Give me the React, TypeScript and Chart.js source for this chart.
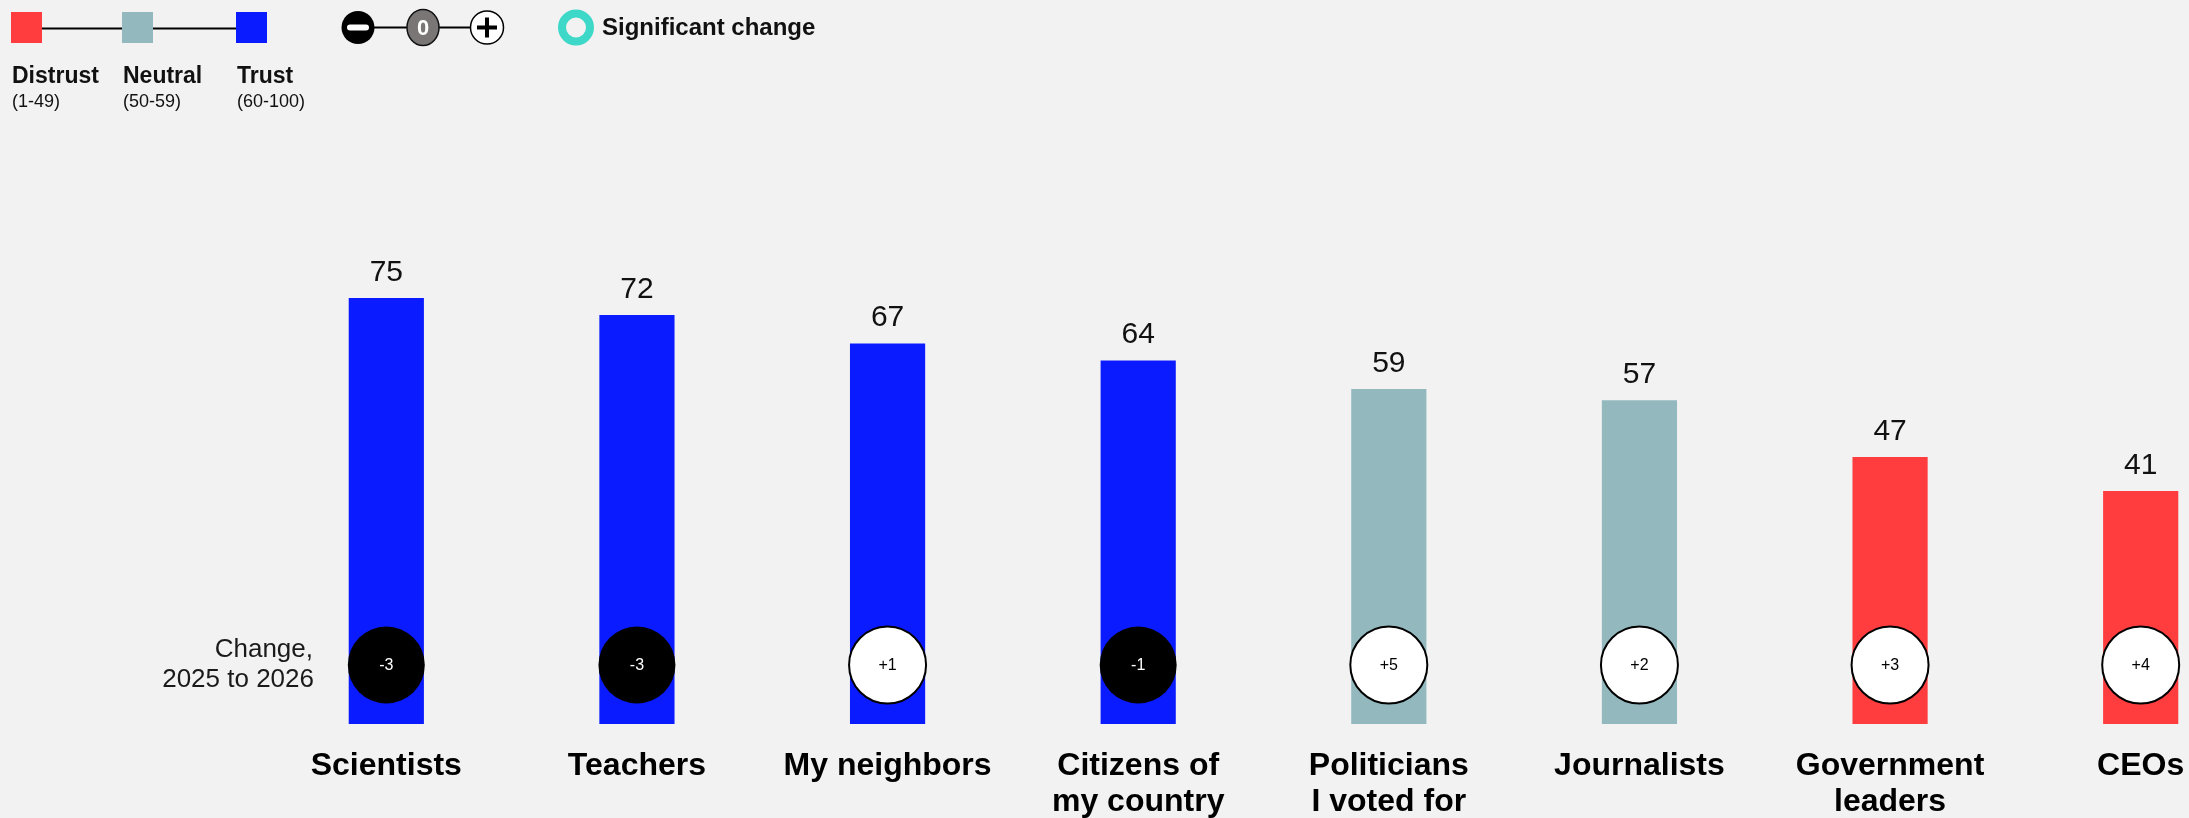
import React, { useEffect, useRef } from 'react';
import { Chart, registerables } from 'chart.js';

Chart.register(...registerables);

// ---- data ----
const categories: string[][] = [
  ['Scientists'],
  ['Teachers'],
  ['My neighbors'],
  ['Citizens of', 'my country'],
  ['Politicians', 'I voted for'],
  ['Journalists'],
  ['Government', 'leaders'],
  ['CEOs'],
];
const trustValues = [75, 72, 67, 64, 59, 57, 47, 41];
const changeValues = [-3, -3, 1, -1, 5, 2, 3, 4];
const bandNames = ['Distrust', 'Neutral', 'Trust'];
const bandRanges = ['(1-49)', '(50-59)', '(60-100)'];
const changeLabelLines = ['Change,', '2025 to 2026'];
const significantLabel = 'Significant change';

// ---- styles ----
const RED = '#FF3D3F';
const NEUTRAL = '#93B9BF';
const BLUE = '#0A1BFF';
const BG = '#f2f2f2';
const FONT = '"Liberation Sans", Arial, Helvetica, sans-serif';

const colorFor = (v: number) => (v < 50 ? RED : v < 60 ? NEUTRAL : BLUE);

const overlayPlugin = {
  id: 'overlay',
  afterDatasetsDraw(chart: any) {
    const ctx = chart.ctx as CanvasRenderingContext2D;
    const meta = chart.getDatasetMeta(0);
    const area = chart.chartArea;
    ctx.save();

    // value labels above bars
    ctx.font = `30px ${FONT}`;
    ctx.fillStyle = '#111';
    ctx.textAlign = 'center';
    ctx.textBaseline = 'alphabetic';
    meta.data.forEach((bar: any, i: number) => {
      ctx.fillText(String(trustValues[i]), bar.x, bar.y - 17);
    });

    // change circles
    const cy = area.bottom - 59;
    meta.data.forEach((bar: any, i: number) => {
      const v = changeValues[i];
      ctx.beginPath();
      ctx.arc(bar.x, cy, 38.5, 0, Math.PI * 2);
      if (v < 0) {
        ctx.fillStyle = '#000';
        ctx.fill();
      } else {
        ctx.fillStyle = '#fff';
        ctx.fill();
        ctx.lineWidth = 2;
        ctx.strokeStyle = '#000';
        ctx.stroke();
      }
      ctx.font = `16px ${FONT}`;
      ctx.textAlign = 'center';
      ctx.textBaseline = 'middle';
      ctx.fillStyle = v < 0 ? '#fff' : '#000';
      ctx.fillText(v > 0 ? `+${v}` : String(v), bar.x, cy + 1);
    });

    // "Change, 2025 to 2026"
    ctx.font = `26px ${FONT}`;
    ctx.fillStyle = '#1a1a1a';
    ctx.textAlign = 'right';
    ctx.textBaseline = 'alphabetic';
    ctx.fillText(changeLabelLines[0], area.left + 52, area.bottom - 67.5);
    ctx.fillText(changeLabelLines[1], area.left + 53, area.bottom - 37.5);
    ctx.restore();
  },
  afterDraw(chart: any) {
    const ctx = chart.ctx as CanvasRenderingContext2D;
    ctx.save();
    // colour band legend
    const squares = [11, 122, 236];
    const colors = [RED, NEUTRAL, BLUE];
    ctx.strokeStyle = '#000';
    ctx.lineWidth = 2;
    ctx.beginPath();
    ctx.moveTo(42, 28.5);
    ctx.lineTo(122, 28.5);
    ctx.moveTo(153, 28.5);
    ctx.lineTo(236, 28.5);
    ctx.stroke();
    squares.forEach((x, i) => {
      ctx.fillStyle = colors[i];
      ctx.fillRect(x, 12, 31, 31);
      ctx.fillStyle = '#111';
      ctx.textAlign = 'left';
      ctx.textBaseline = 'alphabetic';
      ctx.font = `bold 23px ${FONT}`;
      ctx.fillText(bandNames[i], x + 1, 83);
      ctx.font = `18px ${FONT}`;
      ctx.fillText(bandRanges[i], x + 1, 107);
    });

    // minus / zero / plus legend
    const cyL = 27.5;
    ctx.beginPath();
    ctx.moveTo(374, cyL);
    ctx.lineTo(470, cyL);
    ctx.strokeStyle = '#000';
    ctx.lineWidth = 2;
    ctx.stroke();
    // minus
    ctx.beginPath();
    ctx.arc(358, cyL, 16.5, 0, Math.PI * 2);
    ctx.fillStyle = '#000';
    ctx.fill();
    ctx.fillStyle = '#fff';
    ctx.beginPath();
    ctx.roundRect(347, cyL - 3, 22, 6, 3);
    ctx.fill();
    // zero
    ctx.beginPath();
    ctx.ellipse(423, cyL, 16, 18, 0, 0, Math.PI * 2);
    ctx.fillStyle = '#7a7676';
    ctx.fill();
    ctx.lineWidth = 1.5;
    ctx.strokeStyle = '#111';
    ctx.stroke();
    ctx.fillStyle = '#fff';
    ctx.font = `bold 22px ${FONT}`;
    ctx.textAlign = 'center';
    ctx.textBaseline = 'middle';
    ctx.fillText('0', 423, cyL + 1);
    // plus
    ctx.beginPath();
    ctx.arc(487, cyL, 16.5, 0, Math.PI * 2);
    ctx.fillStyle = '#fff';
    ctx.fill();
    ctx.lineWidth = 1.5;
    ctx.strokeStyle = '#000';
    ctx.stroke();
    ctx.fillStyle = '#000';
    ctx.fillRect(477, cyL - 2, 20, 4);
    ctx.fillRect(485, cyL - 10, 4, 20);

    // significant change ring
    ctx.beginPath();
    ctx.arc(576, cyL, 14, 0, Math.PI * 2);
    ctx.lineWidth = 8;
    ctx.strokeStyle = '#3ED8C8';
    ctx.stroke();
    ctx.fillStyle = '#111';
    ctx.font = `bold 24px ${FONT}`;
    ctx.textAlign = 'left';
    ctx.textBaseline = 'alphabetic';
    ctx.fillText(significantLabel, 602, 35);
    ctx.restore();
  },
};

export default function App() {
  const ref = useRef<HTMLCanvasElement | null>(null);
  useEffect(() => {
    if (!ref.current) return;
    const chart = new Chart(ref.current, {
      type: 'bar',
      data: {
        labels: categories,
        datasets: [
          {
            data: trustValues,
            backgroundColor: trustValues.map(colorFor),
            borderWidth: 0,
            categoryPercentage: 1,
            barPercentage: 0.3,
          },
        ],
      },
      options: {
        animation: false,
        responsive: false,
        maintainAspectRatio: false,
        devicePixelRatio: 1,
        layout: { padding: { left: 261, right: 24, top: 156, bottom: 0 } },
        plugins: { legend: { display: false }, tooltip: { enabled: false } },
        scales: {
          y: { display: false, min: 0, max: 100 },
          x: {
            grid: { display: false },
            border: { display: false },
            afterFit: (scale: any) => {
              scale.height = 94;
            },
            ticks: {
              autoSkip: false,
              maxRotation: 0,
              minRotation: 0,
              padding: 16,
              color: '#000',
              font: { family: FONT, size: 32, weight: 'bold', lineHeight: 1.125 },
            },
          },
        },
      },
      plugins: [overlayPlugin],
    });
    return () => chart.destroy();
  }, []);
  return (
    <div
      style={{
        position: 'fixed',
        left: 0,
        top: 0,
        width: '100vw',
        height: '100vh',
        overflow: 'hidden',
        background: BG,
      }}
    >
      <canvas ref={ref} width={2290} height={818} style={{ display: 'block' }} />
    </div>
  );
}
